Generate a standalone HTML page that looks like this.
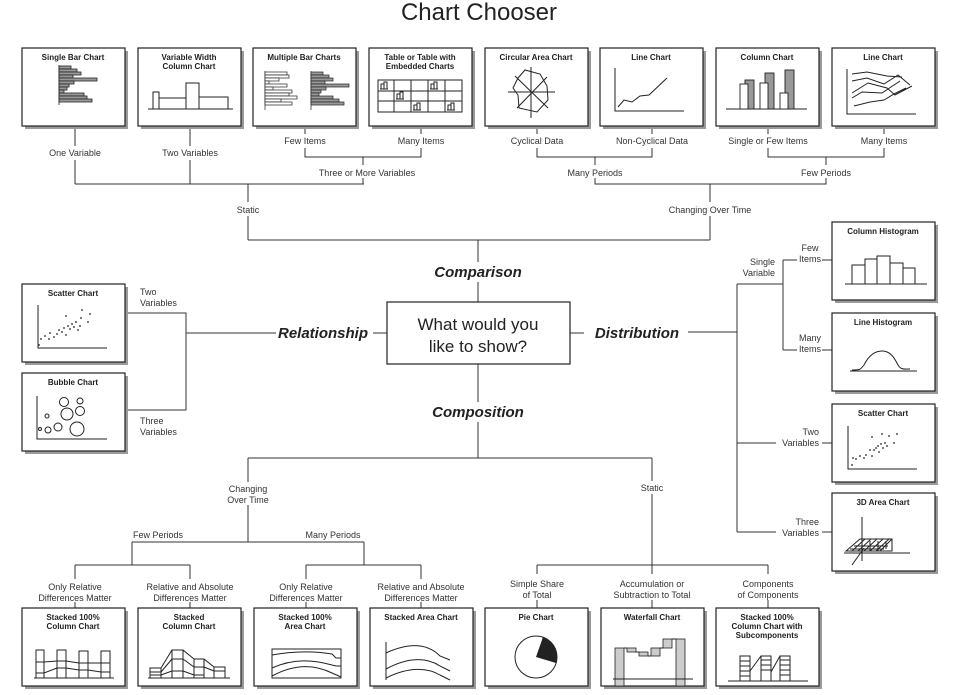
<!DOCTYPE html>
<html><head><meta charset="utf-8"><style>
html,body{margin:0;padding:0;background:#fff}
svg{display:block;font-family:"Liberation Sans",Arial,sans-serif}
.t{font-size:8px;font-weight:bold;text-anchor:middle;fill:#222}
.l{font-size:9px;fill:#333;text-anchor:middle}
.b{font-size:15px;font-weight:bold;font-style:italic;fill:#222;text-anchor:middle}
.ln{stroke:#333;stroke-width:1;fill:none}
.ic{stroke:#222;stroke-width:1;fill:none}
</style></head><body>
<svg width="980" height="695" viewBox="0 0 980 695" xmlns="http://www.w3.org/2000/svg">
<defs>
<g id="box"><rect x="3" y="3" width="103" height="78" fill="#9a9a9a"/><rect x="0" y="0" width="103" height="78" fill="#fff" stroke="#222" stroke-width="1.2"/></g>
</defs>
<text x="479" y="20" font-size="24" text-anchor="middle" fill="#222">Chart Chooser</text>

<g class="ln">
<path d="M75 126V146M75 160V184M190 126V146M190 160V184M75 184H364M305 126V134M421 126V134M305 148V157H421V148M363 157V165M363 178V184M248 184V202M248 216V240"/>
<path d="M537 126V134M652 126V134M537 148V157H652V148M768 126V134M884 126V134M768 148V157H884V148M595 157V165M826 157V165M595 178V184H826V178M710 184V202M710 216V240M248 240H710M478 240V262M478 282V302"/>
<path d="M478 364V402M478 422V458M248 458H652M248 458V482M248 505V542M132 542H364M132 542V565M364 542V565M75 565H190M306 565H421M75 565V579M190 565V579M306 565V579M421 565V579M75 602V608M190 602V608M306 602V608M421 602V608"/>
<path d="M652 458V481M652 494V565M537 565H768M537 565V574M652 565V574M768 565V574M537 600V608M652 600V608M768 600V608"/>
<path d="M125 313H186V410H125M186 333H276M373 333H387M570 333H584M688 332H737M737 284V532M737 284H783M783 260V350M783 260H797M822 260H832M783 350H797M822 350H832M737 443H776M822 443H832M737 532H776M822 532H832"/>
</g>

<text class="l" x="75" y="156">One Variable</text>
<text class="l" x="190" y="156">Two Variables</text>
<text class="l" x="305" y="144">Few Items</text>
<text class="l" x="421" y="144">Many Items</text>
<text class="l" x="367" y="176">Three or More Variables</text>
<text class="l" x="248" y="213">Static</text>
<text class="l" x="537" y="144">Cyclical Data</text>
<text class="l" x="652" y="144">Non-Cyclical Data</text>
<text class="l" x="768" y="144">Single or Few Items</text>
<text class="l" x="884" y="144">Many Items</text>
<text class="l" x="595" y="176">Many Periods</text>
<text class="l" x="826" y="176">Few Periods</text>
<text class="l" x="710" y="213">Changing Over Time</text>
<text class="b" x="478" y="277">Comparison</text>
<text class="b" x="478" y="417">Composition</text>
<text class="b" x="323" y="338">Relationship</text>
<text class="b" x="637" y="338">Distribution</text>
<rect x="387" y="302" width="183" height="62" fill="#fff" stroke="#222" stroke-width="1.2"/>
<text x="478" y="330" font-size="17" text-anchor="middle" fill="#222">What would you</text>
<text x="478" y="352" font-size="17" text-anchor="middle" fill="#222">like to show?</text>
<text class="l" x="140" y="295" style="text-anchor:start">Two</text>
<text class="l" x="140" y="306" style="text-anchor:start">Variables</text>
<text class="l" x="140" y="424" style="text-anchor:start">Three</text>
<text class="l" x="140" y="435" style="text-anchor:start">Variables</text>
<text class="l" x="775" y="265" style="text-anchor:end">Single</text>
<text class="l" x="775" y="276" style="text-anchor:end">Variable</text>
<text class="l" x="810" y="251">Few</text>
<text class="l" x="810" y="262">Items</text>
<text class="l" x="810" y="341">Many</text>
<text class="l" x="810" y="352">Items</text>
<text class="l" x="819" y="435" style="text-anchor:end">Two</text>
<text class="l" x="819" y="446" style="text-anchor:end">Variables</text>
<text class="l" x="819" y="525" style="text-anchor:end">Three</text>
<text class="l" x="819" y="536" style="text-anchor:end">Variables</text>
<text class="l" x="248" y="492">Changing</text>
<text class="l" x="248" y="503">Over Time</text>
<text class="l" x="652" y="491">Static</text>
<text class="l" x="158" y="538">Few Periods</text>
<text class="l" x="333" y="538">Many Periods</text>
<text class="l" x="75" y="590">Only Relative</text>
<text class="l" x="75" y="601">Differences Matter</text>
<text class="l" x="190" y="590">Relative and Absolute</text>
<text class="l" x="190" y="601">Differences Matter</text>
<text class="l" x="306" y="590">Only Relative</text>
<text class="l" x="306" y="601">Differences Matter</text>
<text class="l" x="421" y="590">Relative and Absolute</text>
<text class="l" x="421" y="601">Differences Matter</text>
<text class="l" x="537" y="587">Simple Share</text>
<text class="l" x="537" y="598">of Total</text>
<text class="l" x="652" y="587">Accumulation or</text>
<text class="l" x="652" y="598">Subtraction to Total</text>
<text class="l" x="768" y="587">Components</text>
<text class="l" x="768" y="598">of Components</text>

<g transform="translate(22,48)"><use href="#box"/><text class="t" x="51" y="12">Single Bar Chart</text>
<g stroke="#222" stroke-width=".8" fill="#999"><path d="M37 17V57" fill="none"/><rect x="37" y="18" width="12" height="3"/><rect x="37" y="21" width="18" height="3"/><rect x="37" y="24" width="22" height="3"/><rect x="37" y="27" width="14" height="3"/><rect x="37" y="30" width="38" height="3"/><rect x="37" y="33" width="15" height="3"/><rect x="37" y="36" width="10" height="3"/><rect x="37" y="39" width="8" height="3"/><rect x="37" y="42" width="5" height="3"/><rect x="37" y="45" width="25" height="3"/><rect x="37" y="48" width="28" height="3"/><rect x="37" y="51" width="33" height="3"/></g></g>
<g transform="translate(138,48)"><use href="#box"/><text class="t" x="51" y="12">Variable Width</text><text class="t" x="51" y="21">Column Chart</text>
<path class="ic" d="M10 61H95M15 61V44H21V61M21 61V50H48V61M48 61V35H61V61M61 61V49H90V61"/></g>
<g transform="translate(253,48)"><use href="#box"/><text class="t" x="51" y="12">Multiple Bar Charts</text>
<g stroke="#222" stroke-width=".7" fill="#fff"><path d="M12 23V62M58 23V62"/><rect x="12" y="24" width="22" height="3"/><rect x="12" y="27" width="24" height="3"/><rect x="12" y="30" width="14" height="3"/><rect x="12" y="33" width="4" height="3"/><rect x="12" y="36" width="22" height="3"/><rect x="12" y="39" width="8" height="3"/><rect x="12" y="42" width="27" height="3"/><rect x="12" y="45" width="24" height="3"/><rect x="12" y="48" width="32" height="3"/><rect x="12" y="51" width="16" height="3"/><rect x="12" y="54" width="27" height="3"/>
<g fill="#999"><rect x="58" y="24" width="12" height="3"/><rect x="58" y="27" width="18" height="3"/><rect x="58" y="30" width="22" height="3"/><rect x="58" y="33" width="14" height="3"/><rect x="58" y="36" width="38" height="3"/><rect x="58" y="39" width="15" height="3"/><rect x="58" y="42" width="10" height="3"/><rect x="58" y="45" width="8" height="3"/><rect x="58" y="48" width="22" height="3"/><rect x="58" y="51" width="28" height="3"/><rect x="58" y="54" width="33" height="3"/></g></g></g>
<g transform="translate(369,48)"><use href="#box"/><text class="t" x="51" y="12">Table or Table with</text><text class="t" x="51" y="21">Embedded Charts</text>
<path class="ic" stroke-width=".8" d="M9 32H93V64H9ZM9 43H93M9 53H93M25 32V64M42 32V64M59 32V64M76 32V64"/>
<g class="ic" stroke-width=".7"><path d="M12 41V36h3v5M15 41V34h3v7M11 41h8"/><path d="M28 51V46h3v5M31 51V44h3v7M27 51h8"/><path d="M45 62V57h3v5M48 62V55h3v7M44 62h8"/><path d="M62 41V36h3v5M65 41V34h3v7M61 41h8"/><path d="M79 62V57h3v5M82 62V55h3v7M78 62h8"/></g></g>
<g transform="translate(485,48)"><use href="#box"/><text class="t" x="51" y="12">Circular Area Chart</text>
<path class="ic" d="M46 19V70M23 44H70M30 28L63 60M32 60L62 29M33 30L40 22L55 26L62 38L63 52L52 64L34 60L33 47L28 40Z"/></g>
<g transform="translate(600,48)"><use href="#box"/><text class="t" x="51" y="12">Line Chart</text>
<path class="ic" d="M15 20V63H84M18 59L24 52L32 54L40 48L49 47L67 30"/></g>
<g transform="translate(716,48)"><use href="#box"/><text class="t" x="51" y="12">Column Chart</text>
<path class="ic" d="M10 61H91"/><g stroke="#222" stroke-width=".9"><rect x="29" y="32" width="9" height="29" fill="#999"/><rect x="24" y="36" width="8" height="25" fill="#fff"/><rect x="49" y="25" width="9" height="36" fill="#999"/><rect x="44" y="35" width="8" height="26" fill="#fff"/><rect x="69" y="22" width="9" height="39" fill="#999"/><rect x="64" y="45" width="8" height="16" fill="#fff"/></g></g>
<g transform="translate(832,48)"><use href="#box"/><text class="t" x="51" y="12">Line Chart</text>
<path class="ic" stroke-width=".8" d="M15 21V66H84M20 26L35 24L55 28L70 29M20 33L35 30L52 36L66 27L78 37M20 45L36 35L55 40L63 47L80 38M20 50L30 44L50 45L68 33M22 58L38 54L52 52L62 46L74 40"/></g>

<g transform="translate(22,284)"><use href="#box"/><text class="t" x="51" y="12">Scatter Chart</text>
<path class="ic" d="M16 21V64H85"/><g fill="#222"><circle cx="17" cy="61" r=".9"/><circle cx="19" cy="55" r=".9"/><circle cx="23" cy="52" r=".9"/><circle cx="27" cy="55" r=".9"/><circle cx="28" cy="49" r=".9"/><circle cx="32" cy="53" r=".9"/><circle cx="35" cy="50" r=".9"/><circle cx="37" cy="46" r=".9"/><circle cx="40" cy="48" r=".9"/><circle cx="42" cy="44" r=".9"/><circle cx="44" cy="51" r=".9"/><circle cx="46" cy="42" r=".9"/><circle cx="48" cy="45" r=".9"/><circle cx="50" cy="40" r=".9"/><circle cx="52" cy="43" r=".9"/><circle cx="54" cy="38" r=".9"/><circle cx="56" cy="46" r=".9"/><circle cx="58" cy="42" r=".9"/><circle cx="59" cy="34" r=".9"/><circle cx="66" cy="38" r=".9"/><circle cx="68" cy="30" r=".9"/><circle cx="44" cy="32" r=".9"/><circle cx="60" cy="26" r=".9"/></g></g>
<g transform="translate(22,373)"><use href="#box"/><text class="t" x="51" y="12">Bubble Chart</text>
<path class="ic" d="M15 23V66H85"/><g class="ic" stroke-width=".8"><circle cx="42" cy="29" r="4.5"/><circle cx="58" cy="28" r="3"/><circle cx="45" cy="41" r="6"/><circle cx="58" cy="38" r="4.5"/><circle cx="25" cy="43" r="2"/><circle cx="18" cy="56" r="1.5"/><circle cx="26" cy="57" r="3"/><circle cx="36" cy="54" r="4"/><circle cx="55" cy="56" r="7"/></g></g>

<g transform="translate(832,222)"><use href="#box"/><text class="t" x="51" y="12">Column Histogram</text>
<path class="ic" d="M13 62H95M20 62V43H33V62M33 62V37H45V62M45 62V34H58V62M58 62V41H71V62M71 62V46H83V62"/></g>
<g transform="translate(832,313)"><use href="#box"/><text class="t" x="51" y="12">Line Histogram</text>
<path class="ic" d="M18 58H85M20 57C28 57 28 57 32 52C36 44 42 38 50 38C58 38 62 44 66 52C69 57 72 56 78 56"/></g>
<g transform="translate(832,404)"><use href="#box"/><text class="t" x="51" y="12">Scatter Chart</text>
<path class="ic" d="M16 22V65H85"/><g fill="#222"><circle cx="20" cy="61" r=".9"/><circle cx="21" cy="54" r=".9"/><circle cx="24" cy="55" r=".9"/><circle cx="28" cy="52" r=".9"/><circle cx="32" cy="54" r=".9"/><circle cx="34" cy="51" r=".9"/><circle cx="38" cy="46" r=".9"/><circle cx="40" cy="52" r=".9"/><circle cx="42" cy="46" r=".9"/><circle cx="44" cy="44" r=".9"/><circle cx="46" cy="42" r=".9"/><circle cx="47" cy="48" r=".9"/><circle cx="49" cy="40" r=".9"/><circle cx="51" cy="44" r=".9"/><circle cx="53" cy="39" r=".9"/><circle cx="55" cy="42" r=".9"/><circle cx="50" cy="30" r=".9"/><circle cx="40" cy="33" r=".9"/><circle cx="57" cy="32" r=".9"/><circle cx="62" cy="39" r=".9"/><circle cx="65" cy="30" r=".9"/></g></g>
<g transform="translate(832,493)"><use href="#box"/><text class="t" x="51" y="12">3D Area Chart</text>
<path class="ic" stroke-width=".7" d="M30 24V68M12 60H78M20 72L32 55M14 58L28 46H60V58L48 58M28 46L14 58H48L60 46M20 58L33 46M26 58L39 46M32 58L45 46M38 58L51 46M44 58L57 46M22 53H56M18 56H52M30 48V58M38 48V58M46 48V58M54 48V56"/></g>

<g transform="translate(22,608)"><use href="#box"/><text class="t" x="51" y="12">Stacked 100%</text><text class="t" x="51" y="21">Column Chart</text>
<path class="ic" d="M12 70H92M14 42H22V70H14ZM35 42H44V70H35ZM57 43H66V70H57ZM79 43H88V70H79ZM14 54H22L35 53H44L57 55H66L79 55H88M14 65H22L35 60H44L57 62H66L79 64H88"/></g>
<g transform="translate(138,608)"><use href="#box"/><text class="t" x="51" y="12">Stacked</text><text class="t" x="51" y="21">Column Chart</text>
<path class="ic" d="M10 70H92M12 60H23V70H12ZM12 64H23M12 67H23M34 42H45V70H34ZM34 51H45M34 63H45M56 51H66V70H56ZM56 59H66M56 67H66M76 59H87V70H76ZM76 63H87M23 60L34 42M23 64L34 51M23 67L34 63M45 42L56 51M45 51L56 59M45 63L56 67M66 51L76 59M66 59L76 63"/></g>
<g transform="translate(254,608)"><use href="#box"/><text class="t" x="51" y="12">Stacked 100%</text><text class="t" x="51" y="21">Area Chart</text>
<path class="ic" d="M18 41H87V70H18ZM18 47C40 43 60 43 78 46L82 50H87M18 60C40 50 60 52 78 57L82 58H87M18 68C40 56 60 56 78 65L87 69"/></g>
<g transform="translate(370,608)"><use href="#box"/><text class="t" x="51" y="12">Stacked Area Chart</text>
<path class="ic" d="M16 34V72M16 45C40 34 58 36 70 48L80 52M16 61C40 48 58 50 70 58L80 63M16 70C40 58 58 60 70 67L80 72"/></g>
<g transform="translate(485,608)"><use href="#box"/><text class="t" x="51" y="12">Pie Chart</text>
<circle cx="51" cy="49" r="21" fill="#fff" stroke="#222"/><path d="M51 49L58 29A21 21 0 0 1 71 55Z" fill="#222"/></g>
<g transform="translate(601,608)"><use href="#box"/><text class="t" x="51" y="12">Waterfall Chart</text>
<g stroke="#222" stroke-width=".8" fill="#ccc"><rect x="14" y="40" width="9" height="38"/><rect x="26" y="40" width="9" height="4"/><rect x="38" y="44" width="9" height="4"/><rect x="50" y="40" width="9" height="8"/><rect x="62" y="31" width="9" height="9"/><rect x="75" y="31" width="9" height="47"/></g>
<path class="ic" d="M12 71H92M23 40H26M35 44H38M47 48H50M59 40H62M71 31H75"/></g>
<g transform="translate(716,608)"><use href="#box"/><text class="t" x="51" y="12">Stacked 100%</text><text class="t" x="51" y="21">Column Chart with</text><text class="t" x="51" y="30">Subcomponents</text>
<path class="ic" stroke-width=".8" d="M12 73H92M24 48H34V73H24ZM24 53H34M24 58H34M24 63H34M24 68H34M45 48H55V73H45ZM45 52H55M45 57H55M45 62H55M64 48H74V73H64ZM64 52H74M64 57H74M64 62H74M64 67H74M34 63L45 48M55 64L64 48"/></g>
</svg>
</body></html>
